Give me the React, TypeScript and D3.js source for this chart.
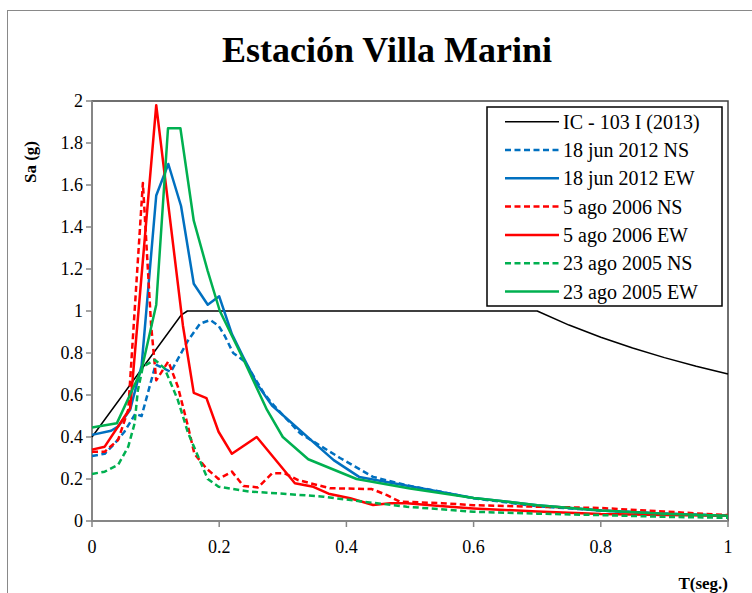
import * as d3 from 'd3'

// IC - 103 I (2013) design spectrum
const icT = [0, 0.14, 0.15, 0.7, 0.75, 0.8, 0.85, 0.9, 0.95, 1.0]
const icSa = [0.4, 0.98, 1.0, 1.0, 0.933, 0.875, 0.824, 0.778, 0.737, 0.7]

// 18 jun 2012
const jun12NsT = [0, 0.02, 0.036, 0.051, 0.068, 0.078, 0.1, 0.124, 0.151, 0.17, 0.186, 0.199, 0.209, 0.222, 0.24, 0.254, 0.27, 0.283, 0.327, 0.39, 0.442, 0.495, 0.547, 0.6, 0.7, 0.8, 0.9, 1.0]
const jun12NsSa = [0.31, 0.32, 0.37, 0.425, 0.51, 0.5, 0.745, 0.71, 0.86, 0.94, 0.957, 0.93, 0.88, 0.8, 0.76, 0.69, 0.61, 0.56, 0.418, 0.3, 0.21, 0.17, 0.14, 0.108, 0.07, 0.05, 0.035, 0.025]
const jun12EwT = [0, 0.03, 0.041, 0.06, 0.078, 0.101, 0.12, 0.14, 0.16, 0.182, 0.2, 0.22, 0.238, 0.26, 0.283, 0.38, 0.42, 0.5, 0.6, 0.7, 0.8, 0.9, 1.0]
const jun12EwSa = [0.41, 0.43, 0.45, 0.53, 0.74, 1.55, 1.7, 1.5, 1.13, 1.03, 1.07, 0.89, 0.78, 0.65, 0.55, 0.29, 0.21, 0.165, 0.11, 0.075, 0.05, 0.035, 0.025]

// 5 ago 2006
const ago06NsT = [0, 0.02, 0.041, 0.057, 0.08, 0.093, 0.101, 0.12, 0.135, 0.151, 0.161, 0.18, 0.199, 0.22, 0.238, 0.261, 0.283, 0.303, 0.324, 0.374, 0.44, 0.463, 0.484, 0.55, 0.6, 0.7, 0.8, 0.9, 1.0]
const ago06NsSa = [0.33, 0.33, 0.386, 0.53, 1.61, 0.93, 0.67, 0.76, 0.64, 0.45, 0.32, 0.25, 0.2, 0.235, 0.167, 0.16, 0.227, 0.227, 0.195, 0.156, 0.152, 0.124, 0.092, 0.085, 0.075, 0.068, 0.062, 0.045, 0.028]
const ago06EwT = [0, 0.02, 0.06, 0.101, 0.143, 0.16, 0.18, 0.199, 0.22, 0.259, 0.319, 0.348, 0.372, 0.406, 0.442, 0.469, 0.495, 0.547, 0.6, 0.7, 0.8, 0.9, 1.0]
const ago06EwSa = [0.34, 0.354, 0.537, 1.98, 0.93, 0.61, 0.585, 0.425, 0.32, 0.4, 0.18, 0.163, 0.13, 0.108, 0.076, 0.084, 0.084, 0.071, 0.06, 0.045, 0.033, 0.028, 0.025]

// 23 ago 2005
const ago05NsT = [0, 0.02, 0.041, 0.057, 0.067, 0.072, 0.08, 0.099, 0.114, 0.135, 0.151, 0.167, 0.182, 0.199, 0.248, 0.29, 0.364, 0.421, 0.495, 0.6, 0.7, 0.8, 0.9, 1.0]
const ago05NsSa = [0.224, 0.235, 0.267, 0.354, 0.465, 0.62, 0.735, 0.767, 0.727, 0.576, 0.42, 0.306, 0.2, 0.163, 0.14, 0.132, 0.116, 0.094, 0.068, 0.044, 0.035, 0.028, 0.02, 0.015]
const ago05EwT = [0, 0.039, 0.078, 0.101, 0.1195, 0.139, 0.16, 0.182, 0.201, 0.238, 0.275, 0.3, 0.34, 0.416, 0.5, 0.6, 0.7, 0.8, 0.9, 1.0]
const ago05EwSa = [0.445, 0.465, 0.72, 1.03, 1.87, 1.87, 1.43, 1.19, 1.0, 0.77, 0.53, 0.4, 0.294, 0.2, 0.155, 0.11, 0.075, 0.05, 0.035, 0.025]

const xTicks = [0, 0.2, 0.4, 0.6, 0.8, 1]
const yTicks = [0, 0.2, 0.4, 0.6, 0.8, 1, 1.2, 1.4, 1.6, 1.8, 2]

const series = [
  { name: 'IC - 103 I (2013)', t: icT, sa: icSa, color: '#000000', dashed: false, width: 1.5 },
  { name: '18 jun 2012 NS', t: jun12NsT, sa: jun12NsSa, color: '#0070C0', dashed: true, width: 2.5 },
  { name: '18 jun 2012 EW', t: jun12EwT, sa: jun12EwSa, color: '#0070C0', dashed: false, width: 2.5 },
  { name: '5 ago 2006 NS', t: ago06NsT, sa: ago06NsSa, color: '#FF0000', dashed: true, width: 2.5 },
  { name: '5 ago 2006 EW', t: ago06EwT, sa: ago06EwSa, color: '#FF0000', dashed: false, width: 2.5 },
  { name: '23 ago 2005 NS', t: ago05NsT, sa: ago05NsSa, color: '#00B050', dashed: true, width: 2.5 },
  { name: '23 ago 2005 EW', t: ago05EwT, sa: ago05EwSa, color: '#00B050', dashed: false, width: 2.5 }
]

const FONT = '"Liberation Serif", "Times New Roman", serif'

export default function App() {
  const x = d3.scaleLinear().domain([0, 1]).range([92, 728])
  const y = d3.scaleLinear().domain([0, 2]).range([521, 101])

  const line = d3.line<number>()

  const legendX = 487
  const legendY = 107
  const rowH = 28.3

  return (
    <svg width={752} height={593} style={{ position: 'absolute', left: 0, top: 0, background: '#fff' }} fontFamily={FONT}>
      {/* chart area border */}
      <rect x={7.5} y={10.5} width={800} height={650} fill="#fff" stroke="#898989" strokeWidth={1} />

      <text x={387} y={62} textAnchor="middle" fontSize={36} fontWeight="bold">Estación Villa Marini</text>

      {/* plot area frame */}
      <rect x={x(0)} y={y(2)} width={x(1) - x(0)} height={y(0) - y(2)} fill="none" stroke="#404040" strokeWidth={1.5} />
      <line x1={x(0)} x2={x(0)} y1={y(2)} y2={y(0)} stroke="#868686" strokeWidth={2} />
      <line x1={x(0)} x2={x(1)} y1={y(0)} y2={y(0)} stroke="#868686" strokeWidth={2} />

      {yTicks.map(v => (
        <g key={'y' + v}>
          <line x1={x(0) - 6} x2={x(0)} y1={y(v)} y2={y(v)} stroke="#868686" strokeWidth={1.5} />
          <text x={83} y={y(v)} dy="0.35em" textAnchor="end" fontSize={18}>{v}</text>
        </g>
      ))}
      {xTicks.map(v => (
        <g key={'x' + v}>
          <line x1={x(v)} x2={x(v)} y1={y(0)} y2={y(0) + 6} stroke="#868686" strokeWidth={1.5} />
          <text x={x(v)} y={553} textAnchor="middle" fontSize={18}>{v}</text>
        </g>
      ))}

      <text transform="translate(36,162) rotate(-90)" textAnchor="middle" fontSize={17} fontWeight="bold">Sa (g)</text>
      <text x={728} y={589} textAnchor="end" fontSize={17} fontWeight="bold">T(seg.)</text>

      {series.map(s => (
        <path
          key={s.name}
          d={line(s.t.map((t, i) => [x(t), y(s.sa[i])]) as any) || ''}
          fill="none"
          stroke={s.color}
          strokeWidth={s.width}
          strokeDasharray={s.dashed ? '6,3.5' : undefined}
          strokeLinejoin="round"
        />
      ))}

      {/* legend */}
      <rect x={legendX} y={legendY} width={235} height={199} fill="#fff" stroke="#000" strokeWidth={1.5} />
      {series.map((s, i) => {
        const cy = legendY + 14.7 + i * rowH
        return (
          <g key={'lg' + s.name}>
            <line x1={505} x2={559} y1={cy} y2={cy} stroke={s.color} strokeWidth={s.width} strokeDasharray={s.dashed ? '6,3.5' : undefined} />
            <text x={563} y={cy} dy="0.35em" fontSize={20}>{s.name}</text>
          </g>
        )
      })}
    </svg>
  )
}
